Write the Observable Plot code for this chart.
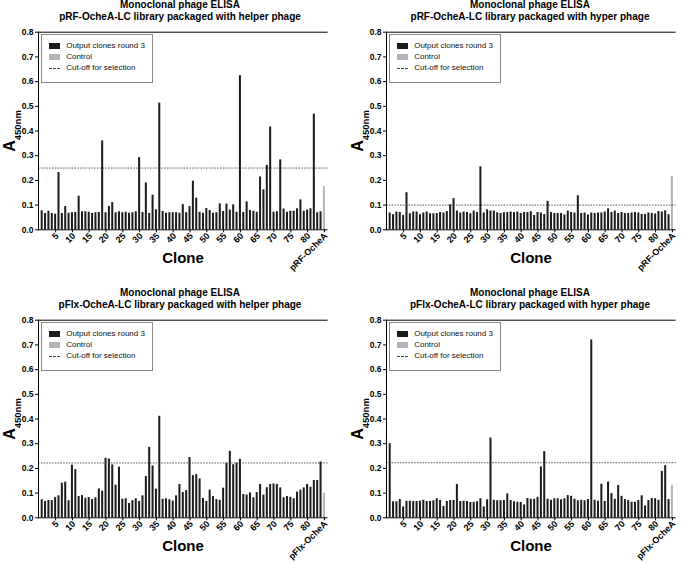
<!DOCTYPE html>
<html>
<head>
<meta charset="utf-8">
<script src="https://cdn.jsdelivr.net/npm/d3@7"></script>
<script src="https://cdn.jsdelivr.net/npm/@observablehq/plot@0.6"></script>
<style>
  body { margin: 0; background: #fff; overflow: hidden; font-family: "Liberation Sans", Arial, Helvetica, sans-serif; }
  #root { position: relative; width: 685px; height: 563px; overflow: hidden; }
  .panel { position: absolute; }
  .panel svg { position: absolute; left: 0; top: 0; overflow: visible; }
  .title { position: absolute; top: -1px; text-align: center; font-weight: bold; font-size: 10px; line-height: 11.5px; color: #000; white-space: nowrap; }
  .xlabel { position: absolute; top: 249px; height: 18px; line-height: 18px; text-align: center; font-weight: bold; font-size: 15px; color: #000; }
  .legend { position: absolute; left: 40.7px; top: 34.3px; width: 110px; height: 46.5px; border: 1px solid #8a8a8a; background: #fff; }
  .legend .sw { position: absolute; left: 7.5px; width: 11px; height: 5.4px; }
  .legend .dash { position: absolute; left: 7.5px; width: 11px; height: 0; border-top: 1px dashed #444; }
  .legend .lt { position: absolute; left: 24.5px; font-size: 8px; line-height: 10px; height: 10px; color: #111; white-space: nowrap; }
</style>
</head>
<body>
<div id="root"></div>
<script>
// ---- data ----
const clones = d3.range(1, 85);              // clone numbers 1..84
const controlSlot = 85;                       // slot of the control bar
const xTickValues = [5, 10, 15, 20, 25, 30, 35, 40, 45, 50, 55, 60, 65, 70, 75, 80, 85];
const yTickValues = [0.0, 0.1, 0.2, 0.3, 0.4, 0.5, 0.6, 0.7, 0.8];
const titleLine1 = "Monoclonal phage ELISA";
const titles2 = [
  "pRF-OcheA-LC library packaged with helper phage",
  "pRF-OcheA-LC library packaged with hyper phage",
  "pFlx-OcheA-LC library packaged with helper phage",
  "pFlx-OcheA-LC library packaged with hyper phage"
];
const controlNames = ["pRF-OcheA", "pRF-OcheA", "pFlx-OcheA", "pFlx-OcheA"];
const legendLabels = ["Output clones round 3", "Control", "Cut-off for selection"];

const pRFHelper = [
  0.077,0.066,0.075,0.066,0.063,0.232,0.066,0.094,0.067,0.069,
  0.070,0.136,0.073,0.073,0.071,0.066,0.069,0.070,0.360,0.069,
  0.094,0.110,0.069,0.073,0.069,0.071,0.067,0.069,0.073,0.292,
  0.070,0.190,0.066,0.140,0.081,0.513,0.074,0.067,0.069,0.069,
  0.069,0.067,0.102,0.069,0.094,0.197,0.128,0.071,0.067,0.086,
  0.078,0.067,0.069,0.105,0.074,0.104,0.080,0.101,0.071,0.624,
  0.070,0.113,0.078,0.075,0.071,0.214,0.162,0.261,0.416,0.071,
  0.073,0.283,0.084,0.071,0.075,0.075,0.085,0.121,0.075,0.080,
  0.085,0.468,0.069,0.073
];
const pRFHyper = [
  0.068,0.061,0.072,0.070,0.058,0.150,0.065,0.072,0.072,0.061,
  0.068,0.072,0.065,0.065,0.066,0.070,0.068,0.074,0.101,0.126,
  0.076,0.068,0.072,0.070,0.065,0.076,0.070,0.255,0.068,0.081,
  0.076,0.076,0.069,0.066,0.069,0.070,0.072,0.070,0.072,0.066,
  0.070,0.070,0.073,0.058,0.070,0.068,0.062,0.115,0.070,0.066,
  0.066,0.066,0.060,0.076,0.070,0.068,0.138,0.066,0.068,0.060,
  0.068,0.066,0.068,0.068,0.072,0.085,0.070,0.076,0.066,0.070,
  0.066,0.066,0.068,0.070,0.068,0.062,0.062,0.068,0.066,0.064,
  0.074,0.072,0.077,0.061
];
const pFlxHelper = [
  0.073,0.066,0.070,0.070,0.082,0.089,0.140,0.144,0.069,0.213,
  0.195,0.086,0.090,0.079,0.082,0.074,0.081,0.117,0.108,0.241,
  0.238,0.214,0.132,0.205,0.075,0.077,0.058,0.069,0.077,0.066,
  0.089,0.167,0.285,0.210,0.116,0.411,0.075,0.077,0.073,0.068,
  0.089,0.135,0.102,0.110,0.244,0.171,0.175,0.157,0.078,0.066,
  0.112,0.086,0.074,0.071,0.120,0.221,0.269,0.215,0.221,0.237,
  0.094,0.092,0.101,0.081,0.102,0.135,0.092,0.122,0.135,0.137,
  0.135,0.121,0.081,0.086,0.083,0.077,0.104,0.112,0.121,0.135,
  0.124,0.151,0.151,0.226
];
const pFlxHyper = [
  0.300,0.065,0.065,0.074,0.044,0.067,0.067,0.066,0.066,0.067,
  0.071,0.066,0.066,0.069,0.077,0.070,0.046,0.066,0.070,0.070,
  0.135,0.066,0.067,0.066,0.062,0.063,0.065,0.077,0.044,0.073,
  0.323,0.071,0.069,0.069,0.070,0.097,0.070,0.065,0.063,0.062,
  0.052,0.078,0.075,0.075,0.083,0.206,0.268,0.075,0.071,0.077,
  0.077,0.073,0.077,0.090,0.087,0.075,0.069,0.071,0.069,0.074,
  0.720,0.071,0.067,0.136,0.066,0.145,0.098,0.075,0.131,0.087,
  0.074,0.070,0.063,0.063,0.070,0.089,0.048,0.070,0.078,0.077,
  0.071,0.188,0.211,0.074
];
const controlValues = [0.175, 0.216, 0.100, 0.132];
const cutoffValues = [0.250, 0.100, 0.222, 0.223];

// ---- layout ----
const seriesList = [pRFHelper, pRFHyper, pFlxHelper, pFlxHyper];
const panelPos = [[0, 0, 288], [348, 0, 288], [0, 288, 275], [348, 288, 275]];
const FONT = "'Liberation Sans', Arial, Helvetica, sans-serif";
const root = document.getElementById("root");

seriesList.forEach((values, k) => {
  const [left, top, h] = panelPos[k];
  const panel = document.createElement("div");
  panel.className = "panel";
  panel.style.left = left + "px";
  panel.style.top = top + "px";
  panel.style.width = "337px";
  panel.style.height = h + "px";
  root.appendChild(panel);

  const cloneData = clones.map((c, i) => ({slot: c, v: values[i]}));
  const controlData = [{slot: controlSlot, v: controlValues[k]}];
  const ctrlName = controlNames[k];

  const svg = Plot.plot({
    width: 337,
    height: h,
    marginLeft: 38,
    marginRight: 9.4,
    marginTop: 31.7,
    marginBottom: h - 229.3,
    style: {fontFamily: FONT, background: "transparent", color: "#000"},
    x: {type: "band", domain: d3.range(1, 86), paddingInner: 0.4, paddingOuter: 0.8, align: 0.5},
    y: {domain: [0, 0.8]},
    marks: [
      Plot.barY(cloneData, {x: "slot", y: "v", fill: "#1c1c1c"}),
      Plot.barY(controlData, {x: "slot", y: "v", fill: "#b4b4b4"}),
      Plot.ruleY([cutoffValues[k]], {stroke: "#333", strokeWidth: 0.8, strokeDasharray: "1.6,1.2"}),
      Plot.ruleY([0, 0.8], {stroke: "#000", strokeWidth: 1}),
      Plot.frame({anchor: "left", stroke: "#000", strokeWidth: 1}),
      Plot.axisY({ticks: yTickValues, tickFormat: d3.format(".1f"), tickSize: 3, tickPadding: 2,
                  fontSize: 8.5, fontWeight: "bold", label: null}),
      Plot.axisX({ticks: xTickValues, tickFormat: () => "", tickSize: 3, label: null})
    ]
  });
  panel.appendChild(svg);

  // rotated x tick labels, placed with the plot's own scales
  const xsc = svg.scale("x");
  const ysc = svg.scale("y");
  const y0 = ysc.apply(0);
  const lg0 = d3.select(svg).append("g")
    .attr("font-size", 9)
    .attr("font-weight", "bold")
    .attr("text-anchor", "end")
    .attr("fill", "#000")
    .style("font-family", FONT);
  xTickValues.forEach(d => {
    const x = xsc.apply(d) + xsc.bandwidth / 2;
    lg0.append("text")
      .attr("transform", `translate(${x + 2},${y0 + 5}) rotate(-45)`)
      .attr("dy", "0.32em")
      .text(d === controlSlot ? ctrlName : String(d));
  });

  // y-axis label A450nm
  const yl = d3.select(svg).append("text")
    .attr("transform", "translate(15,131) rotate(-90)")
    .attr("text-anchor", "middle")
    .attr("font-weight", "bold")
    .attr("fill", "#000")
    .style("font-family", FONT);
  yl.append("tspan").attr("font-size", 16).text("A");
  yl.append("tspan").attr("font-size", 9.5).attr("dy", 6).text("450nm");

  // titles
  const cx = (k % 2 === 0) ? 180 : 182;
  const t = document.createElement("div");
  t.className = "title";
  t.style.left = (cx - 170) + "px";
  t.style.width = "340px";
  t.innerHTML = titleLine1 + "<br>" + titles2[k];
  panel.appendChild(t);

  // x label
  const xl = document.createElement("div");
  xl.className = "xlabel";
  xl.style.left = (183 - 60) + "px";
  xl.style.width = "120px";
  xl.textContent = "Clone";
  panel.appendChild(xl);

  // legend
  const lg = document.createElement("div");
  lg.className = "legend";
  const rows = [10.7, 21.6, 32.8];
  legendLabels.forEach((lab, j) => {
    if (j < 2) {
      const sw = document.createElement("div");
      sw.className = "sw";
      sw.style.top = (rows[j] - 2.7) + "px";
      sw.style.background = j === 0 ? "#1c1c1c" : "#b4b4b4";
      lg.appendChild(sw);
    } else {
      const ds = document.createElement("div");
      ds.className = "dash";
      ds.style.top = (rows[j] - 0.5) + "px";
      lg.appendChild(ds);
    }
    const tx = document.createElement("div");
    tx.className = "lt";
    tx.style.top = (rows[j] - 5) + "px";
    tx.textContent = lab;
    lg.appendChild(tx);
  });
  panel.appendChild(lg);
});
</script>
</body>
</html>
